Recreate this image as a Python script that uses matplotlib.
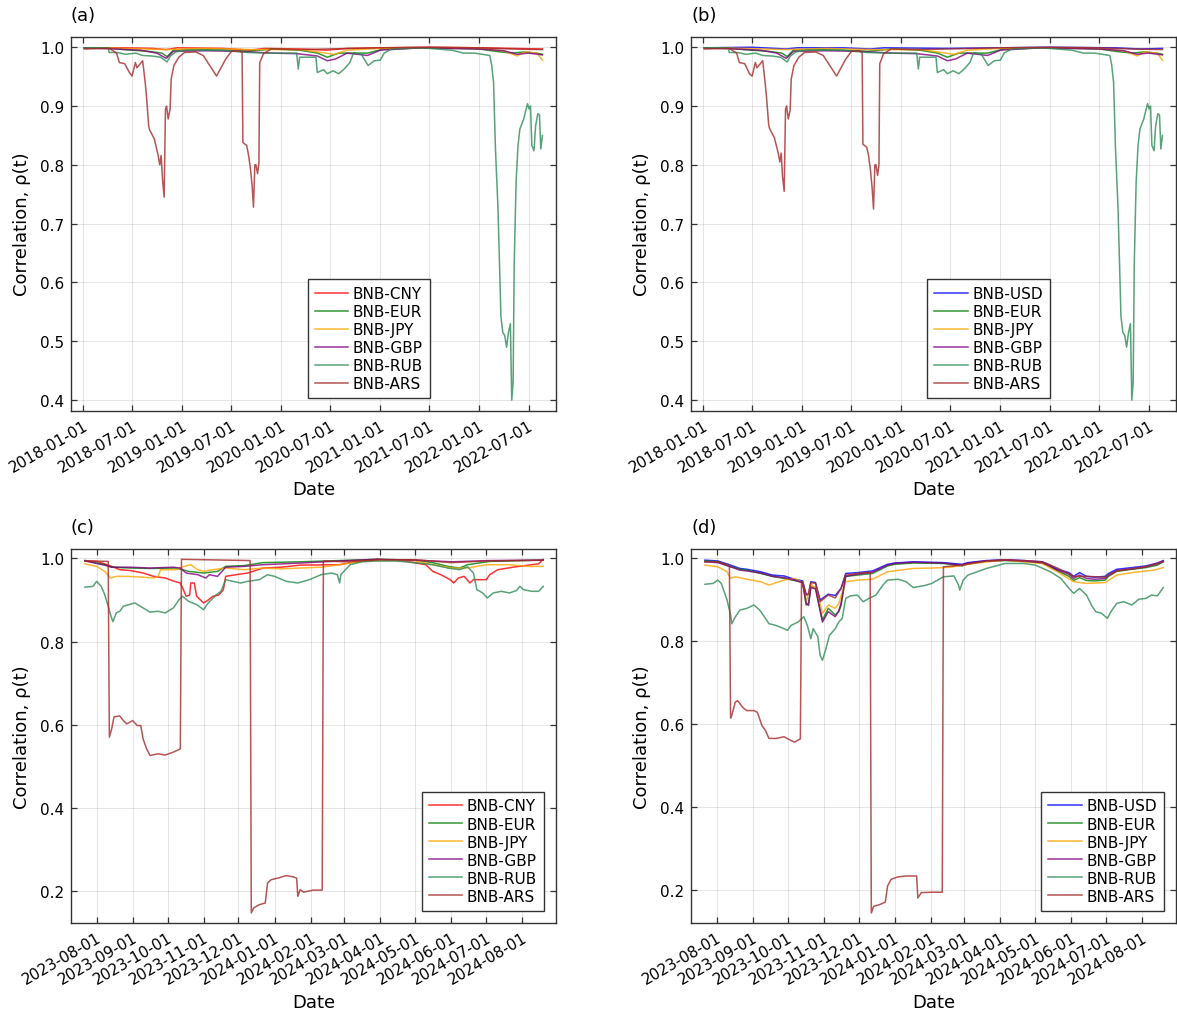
import matplotlib
matplotlib.use("Agg")
import matplotlib.pyplot as plt
import matplotlib.dates as mdates
import pandas as pd

# ---- data: (date, correlation) ----
top_cny = [("2018-01-07", 0.999), ("2018-06-01", 0.999), ("2018-09-15", 0.998), ("2018-11-05", 0.996),
           ("2018-12-15", 0.999), ("2019-06-01", 0.998), ("2019-09-10", 0.995), ("2019-11-01", 0.998),
           ("2020-03-15", 0.997), ("2020-06-15", 0.995), ("2020-09-01", 0.998), ("2021-01-01", 0.999),
           ("2021-07-01", 1.0), ("2022-01-01", 0.999), ("2022-05-01", 0.998), ("2022-08-21", 0.997)]

top_usd = [("2018-01-07", 0.999), ("2018-07-01", 1.0), ("2018-11-05", 0.997), ("2018-12-15", 0.999),
           ("2019-06-01", 0.999), ("2019-09-10", 0.997), ("2019-11-01", 0.999), ("2020-06-15", 0.998),
           ("2021-01-01", 0.999), ("2021-07-01", 1.0), ("2022-03-01", 0.999), ("2022-06-01", 0.997),
           ("2022-08-21", 0.998)]

top_eur = [("2018-01-07", 0.999), ("2018-04-01", 0.999), ("2018-06-01", 0.996), ("2018-09-01", 0.993),
           ("2018-10-20", 0.99), ("2018-11-08", 0.984), ("2018-12-01", 0.995), ("2019-03-01", 0.996),
           ("2019-06-01", 0.995), ("2019-09-01", 0.993), ("2019-12-01", 0.997), ("2020-03-10", 0.995),
           ("2020-05-15", 0.99), ("2020-06-20", 0.983), ("2020-08-01", 0.99), ("2020-11-15", 0.99),
           ("2021-01-15", 0.997), ("2021-06-01", 0.999), ("2021-10-01", 0.998), ("2022-01-01", 0.997),
           ("2022-03-01", 0.993), ("2022-05-01", 0.99), ("2022-06-15", 0.992), ("2022-08-01", 0.99),
           ("2022-08-21", 0.988)]

top_jpy = [("2018-01-07", 0.999), ("2018-06-01", 0.998), ("2018-11-01", 0.996), ("2019-04-01", 0.998),
           ("2019-09-15", 0.996), ("2020-03-15", 0.996), ("2020-06-15", 0.99), ("2020-07-15", 0.988),
           ("2020-09-01", 0.995), ("2021-01-01", 0.998), ("2021-06-01", 0.999), ("2022-01-01", 0.998),
           ("2022-04-01", 0.994), ("2022-05-20", 0.985), ("2022-06-15", 0.992), ("2022-08-01", 0.99),
           ("2022-08-21", 0.978)]

top_gbp = [("2018-01-07", 0.999), ("2018-05-01", 0.997), ("2018-08-01", 0.995), ("2018-10-01", 0.99),
           ("2018-11-05", 0.981), ("2018-12-01", 0.993), ("2019-04-01", 0.994), ("2019-08-01", 0.993),
           ("2019-12-01", 0.99), ("2020-03-01", 0.989), ("2020-05-15", 0.985), ("2020-06-20", 0.977),
           ("2020-07-20", 0.98), ("2020-09-01", 0.99), ("2020-11-15", 0.986), ("2021-01-01", 0.995),
           ("2021-06-01", 0.999), ("2022-01-01", 0.997), ("2022-04-01", 0.994), ("2022-05-20", 0.988),
           ("2022-07-01", 0.99), ("2022-08-21", 0.987)]

top_rub = [("2018-01-07", 0.999), ("2018-04-05", 0.999), ("2018-04-09", 0.991), ("2018-05-10", 0.991),
           ("2018-06-10", 0.988), ("2018-07-15", 0.99), ("2018-08-10", 0.986), ("2018-09-15", 0.985),
           ("2018-10-15", 0.983), ("2018-11-08", 0.975), ("2018-11-20", 0.985), ("2018-12-10", 0.992),
           ("2019-01-15", 0.995), ("2019-06-01", 0.995), ("2019-09-01", 0.991), ("2019-11-15", 0.99),
           ("2020-02-28", 0.99), ("2020-03-05", 0.963), ("2020-03-10", 0.983), ("2020-05-09", 0.983),
           ("2020-05-14", 0.957), ("2020-06-06", 0.962), ("2020-06-20", 0.955), ("2020-07-11", 0.96),
           ("2020-08-01", 0.955), ("2020-08-21", 0.963), ("2020-09-11", 0.974), ("2020-09-25", 0.991),
           ("2020-10-23", 0.988), ("2020-11-17", 0.969), ("2020-12-10", 0.977), ("2021-01-01", 0.978),
           ("2021-01-15", 0.99), ("2021-02-12", 0.997), ("2021-06-01", 0.999), ("2021-09-22", 0.995),
           ("2021-11-03", 0.99), ("2021-12-14", 0.99), ("2022-02-08", 0.986), ("2022-02-15", 0.97),
           ("2022-02-22", 0.94), ("2022-03-01", 0.827), ("2022-03-10", 0.73), ("2022-03-14", 0.665),
           ("2022-03-21", 0.543), ("2022-03-28", 0.515), ("2022-04-04", 0.51), ("2022-04-11", 0.49),
           ("2022-04-18", 0.515), ("2022-04-25", 0.53), ("2022-04-30", 0.40), ("2022-05-05", 0.43),
           ("2022-05-09", 0.63), ("2022-05-16", 0.77), ("2022-05-23", 0.833), ("2022-05-30", 0.861),
           ("2022-06-13", 0.878), ("2022-06-27", 0.904), ("2022-07-03", 0.895), ("2022-07-08", 0.90),
           ("2022-07-13", 0.833), ("2022-07-21", 0.824), ("2022-07-27", 0.867), ("2022-08-04", 0.887),
           ("2022-08-10", 0.885), ("2022-08-15", 0.827), ("2022-08-21", 0.85)]

ars_a = [("2018-01-07", 0.997), ("2018-04-09", 0.998), ("2018-05-06", 0.99), ("2018-05-16", 0.974),
         ("2018-06-05", 0.972), ("2018-06-22", 0.957), ("2018-07-02", 0.951), ("2018-07-14", 0.974),
         ("2018-07-20", 0.965), ("2018-08-10", 0.977), ("2018-08-20", 0.937), ("2018-08-24", 0.917),
         ("2018-09-01", 0.867), ("2018-09-04", 0.86), ("2018-09-22", 0.844), ("2018-10-06", 0.816),
         ("2018-10-12", 0.80), ("2018-10-17", 0.816), ("2018-10-22", 0.776), ("2018-10-28", 0.745),
         ("2018-11-02", 0.895), ("2018-11-06", 0.90), ("2018-11-12", 0.878), ("2018-11-19", 0.895),
         ("2018-11-23", 0.946), ("2018-12-03", 0.969), ("2018-12-21", 0.983), ("2019-01-11", 0.991),
         ("2019-02-21", 0.992), ("2019-03-21", 0.986), ("2019-04-18", 0.966), ("2019-05-09", 0.951),
         ("2019-05-23", 0.963), ("2019-06-12", 0.98), ("2019-07-03", 0.993), ("2019-07-31", 0.994),
         ("2019-08-11", 0.991), ("2019-08-14", 0.838), ("2019-08-28", 0.833), ("2019-09-04", 0.816),
         ("2019-09-11", 0.793), ("2019-09-17", 0.765), ("2019-09-22", 0.728), ("2019-09-27", 0.80),
         ("2019-10-01", 0.80), ("2019-10-07", 0.785), ("2019-10-12", 0.804), ("2019-10-15", 0.974),
         ("2019-10-29", 0.989), ("2019-11-26", 0.997), ("2020-03-15", 0.996), ("2020-06-15", 0.997),
         ("2021-01-01", 0.999), ("2021-07-01", 1.0), ("2022-01-01", 0.999), ("2022-05-01", 0.997),
         ("2022-08-21", 0.996)]

ars_b = [("2018-01-07", 0.997), ("2018-04-09", 0.998), ("2018-05-06", 0.99), ("2018-05-16", 0.974),
         ("2018-06-05", 0.972), ("2018-06-22", 0.955), ("2018-07-02", 0.951), ("2018-07-14", 0.974),
         ("2018-07-20", 0.965), ("2018-08-10", 0.977), ("2018-08-20", 0.935), ("2018-08-24", 0.915),
         ("2018-09-01", 0.868), ("2018-09-04", 0.862), ("2018-09-22", 0.846), ("2018-10-06", 0.82),
         ("2018-10-12", 0.805), ("2018-10-17", 0.82), ("2018-10-22", 0.78), ("2018-10-28", 0.755),
         ("2018-11-02", 0.895), ("2018-11-06", 0.90), ("2018-11-12", 0.878), ("2018-11-19", 0.893),
         ("2018-11-23", 0.946), ("2018-12-03", 0.969), ("2018-12-21", 0.983), ("2019-01-11", 0.991),
         ("2019-02-21", 0.992), ("2019-03-21", 0.986), ("2019-04-18", 0.966), ("2019-05-09", 0.951),
         ("2019-05-23", 0.963), ("2019-06-12", 0.98), ("2019-07-03", 0.993), ("2019-07-31", 0.994),
         ("2019-08-11", 0.991), ("2019-08-14", 0.835), ("2019-08-28", 0.83), ("2019-09-04", 0.815),
         ("2019-09-11", 0.79), ("2019-09-17", 0.76), ("2019-09-22", 0.725), ("2019-09-27", 0.80),
         ("2019-10-01", 0.80), ("2019-10-07", 0.782), ("2019-10-12", 0.80), ("2019-10-15", 0.972),
         ("2019-10-29", 0.989), ("2019-11-26", 0.997), ("2020-03-15", 0.996), ("2020-06-15", 0.997),
         ("2021-01-01", 0.999), ("2021-07-01", 1.0), ("2022-01-01", 0.999), ("2022-05-01", 0.997),
         ("2022-08-21", 0.996)]

c_cny = [("2023-07-22", 0.995), ("2023-08-01", 0.993), ("2023-08-08", 0.987), ("2023-08-14", 0.981),
         ("2023-08-21", 0.973), ("2023-08-30", 0.971), ("2023-09-10", 0.965), ("2023-09-19", 0.957),
         ("2023-09-29", 0.953), ("2023-10-07", 0.945), ("2023-10-12", 0.941), ("2023-10-14", 0.929),
         ("2023-10-17", 0.909), ("2023-10-20", 0.912), ("2023-10-21", 0.941), ("2023-10-24", 0.941),
         ("2023-10-26", 0.909), ("2023-11-01", 0.893), ("2023-11-05", 0.9), ("2023-11-09", 0.909),
         ("2023-11-14", 0.912), ("2023-11-18", 0.925), ("2023-11-20", 0.957), ("2023-11-29", 0.961),
         ("2023-12-09", 0.965), ("2023-12-22", 0.977), ("2024-01-07", 0.979), ("2024-01-23", 0.984),
         ("2024-02-26", 0.985), ("2024-03-06", 0.99), ("2024-03-29", 0.998), ("2024-04-20", 0.995),
         ("2024-04-30", 0.99), ("2024-05-10", 0.985), ("2024-05-16", 0.969), ("2024-05-23", 0.961),
         ("2024-05-31", 0.949), ("2024-06-03", 0.941), ("2024-06-07", 0.953), ("2024-06-12", 0.957),
         ("2024-06-17", 0.941), ("2024-06-20", 0.949), ("2024-07-01", 0.949), ("2024-07-04", 0.961),
         ("2024-07-11", 0.973), ("2024-07-24", 0.979), ("2024-08-06", 0.984), ("2024-08-15", 0.987),
         ("2024-08-19", 0.998)]

c_eur = [("2023-07-22", 0.995), ("2023-08-08", 0.985), ("2023-08-14", 0.979), ("2023-08-30", 0.977),
         ("2023-09-16", 0.976), ("2023-10-08", 0.977), ("2023-10-14", 0.973), ("2023-10-19", 0.969),
         ("2023-11-01", 0.965), ("2023-11-13", 0.969), ("2023-11-20", 0.981), ("2023-12-06", 0.983),
         ("2023-12-22", 0.99), ("2024-01-07", 0.991), ("2024-01-23", 0.992), ("2024-02-26", 0.995),
         ("2024-03-29", 0.998), ("2024-04-30", 0.996), ("2024-05-16", 0.99), ("2024-05-29", 0.981),
         ("2024-06-08", 0.977), ("2024-06-15", 0.985), ("2024-07-04", 0.993), ("2024-08-19", 0.996)]

c_jpy = [("2023-07-22", 0.987), ("2023-08-01", 0.981), ("2023-08-08", 0.969), ("2023-08-13", 0.953),
         ("2023-08-18", 0.957), ("2023-08-27", 0.957), ("2023-09-10", 0.955), ("2023-09-19", 0.953),
         ("2023-09-23", 0.957), ("2023-09-25", 0.973), ("2023-10-08", 0.973), ("2023-10-12", 0.977),
         ("2023-10-15", 0.981), ("2023-10-21", 0.985), ("2023-10-27", 0.973), ("2023-11-01", 0.969),
         ("2023-11-09", 0.973), ("2023-11-20", 0.977), ("2023-12-06", 0.973), ("2023-12-22", 0.977),
         ("2024-01-07", 0.975), ("2024-01-23", 0.977), ("2024-02-10", 0.979), ("2024-02-26", 0.985),
         ("2024-03-13", 0.992), ("2024-03-29", 0.995), ("2024-04-30", 0.995), ("2024-05-16", 0.985),
         ("2024-06-02", 0.977), ("2024-06-15", 0.977), ("2024-07-01", 0.985), ("2024-07-21", 0.985),
         ("2024-08-06", 0.981), ("2024-08-19", 0.981)]

c_gbp = [("2023-07-22", 0.994), ("2023-08-08", 0.984), ("2023-08-14", 0.979), ("2023-08-30", 0.979),
         ("2023-09-16", 0.977), ("2023-10-06", 0.979), ("2023-10-12", 0.977), ("2023-10-17", 0.965),
         ("2023-10-27", 0.961), ("2023-11-03", 0.953), ("2023-11-06", 0.961), ("2023-11-13", 0.957),
         ("2023-11-20", 0.979), ("2023-12-06", 0.981), ("2023-12-22", 0.985), ("2024-01-23", 0.989),
         ("2024-02-26", 0.994), ("2024-03-29", 0.998), ("2024-04-30", 0.996), ("2024-06-02", 0.992),
         ("2024-07-04", 0.995), ("2024-08-19", 0.996)]

c_rub = [("2023-07-22", 0.931), ("2023-07-29", 0.933), ("2023-08-01", 0.945), ("2023-08-05", 0.933),
         ("2023-08-08", 0.913), ("2023-08-11", 0.885), ("2023-08-13", 0.865), ("2023-08-15", 0.848),
         ("2023-08-18", 0.869), ("2023-08-21", 0.873), ("2023-08-24", 0.885), ("2023-08-29", 0.889),
         ("2023-09-03", 0.893), ("2023-09-10", 0.881), ("2023-09-16", 0.871), ("2023-09-23", 0.873),
         ("2023-09-29", 0.869), ("2023-10-06", 0.881), ("2023-10-11", 0.901), ("2023-10-14", 0.909),
         ("2023-10-19", 0.897), ("2023-10-26", 0.889), ("2023-11-01", 0.877), ("2023-11-05", 0.893),
         ("2023-11-12", 0.913), ("2023-11-16", 0.921), ("2023-11-20", 0.949), ("2023-11-26", 0.945),
         ("2023-12-03", 0.941), ("2023-12-09", 0.945), ("2023-12-19", 0.949), ("2023-12-26", 0.961),
         ("2024-01-01", 0.957), ("2024-01-11", 0.945), ("2024-01-21", 0.941), ("2024-01-31", 0.949),
         ("2024-02-10", 0.961), ("2024-02-19", 0.965), ("2024-02-24", 0.961), ("2024-02-26", 0.941),
         ("2024-02-27", 0.961), ("2024-03-06", 0.985), ("2024-03-16", 0.992), ("2024-03-29", 0.994),
         ("2024-04-14", 0.994), ("2024-04-30", 0.99), ("2024-05-16", 0.985), ("2024-05-29", 0.977),
         ("2024-06-08", 0.973), ("2024-06-15", 0.98), ("2024-06-20", 0.965), ("2024-06-23", 0.925),
         ("2024-06-28", 0.917), ("2024-07-02", 0.905), ("2024-07-07", 0.917), ("2024-07-14", 0.921),
         ("2024-07-21", 0.917), ("2024-07-27", 0.923), ("2024-07-30", 0.933), ("2024-08-02", 0.925),
         ("2024-08-09", 0.921), ("2024-08-15", 0.921), ("2024-08-19", 0.933)]

c_ars = [("2023-07-22", 0.994), ("2023-08-11", 0.993), ("2023-08-12", 0.57), ("2023-08-14", 0.59),
         ("2023-08-16", 0.619), ("2023-08-21", 0.621), ("2023-08-24", 0.61), ("2023-08-27", 0.602),
         ("2023-09-01", 0.61), ("2023-09-05", 0.598), ("2023-09-08", 0.598), ("2023-09-10", 0.566),
         ("2023-09-13", 0.542), ("2023-09-16", 0.526), ("2023-09-23", 0.53), ("2023-09-29", 0.527),
         ("2023-10-06", 0.534), ("2023-10-12", 0.542), ("2023-10-13", 0.998), ("2023-12-11", 0.995),
         ("2023-12-12", 0.147), ("2023-12-14", 0.159), ("2023-12-19", 0.167), ("2023-12-24", 0.171),
         ("2023-12-26", 0.219), ("2023-12-29", 0.227), ("2024-01-04", 0.231), ("2024-01-11", 0.237),
         ("2024-01-17", 0.234), ("2024-01-20", 0.231), ("2024-01-21", 0.187), ("2024-01-23", 0.203),
         ("2024-01-26", 0.197), ("2024-02-03", 0.202), ("2024-02-11", 0.202), ("2024-02-12", 0.994),
         ("2024-03-01", 0.992), ("2024-04-01", 0.997), ("2024-05-01", 0.997), ("2024-06-01", 0.99),
         ("2024-07-01", 0.994), ("2024-08-19", 0.996)]

d_usd = [("2023-07-22", 0.994), ("2023-08-02", 0.992), ("2023-08-11", 0.984), ("2023-08-21", 0.974),
         ("2023-08-27", 0.972), ("2023-09-08", 0.966), ("2023-09-18", 0.958), ("2023-09-28", 0.956),
         ("2023-10-07", 0.948), ("2023-10-14", 0.944), ("2023-10-17", 0.912), ("2023-10-19", 0.912),
         ("2023-10-21", 0.942), ("2023-10-25", 0.94), ("2023-10-29", 0.898), ("2023-11-05", 0.912),
         ("2023-11-11", 0.909), ("2023-11-16", 0.926), ("2023-11-20", 0.962), ("2023-11-30", 0.964),
         ("2023-12-13", 0.968), ("2023-12-26", 0.984), ("2024-01-01", 0.987), ("2024-01-17", 0.99),
         ("2024-02-12", 0.988), ("2024-02-28", 0.984), ("2024-03-04", 0.988), ("2024-03-20", 0.993),
         ("2024-04-05", 0.995), ("2024-04-21", 0.993), ("2024-05-07", 0.99), ("2024-05-12", 0.984),
         ("2024-05-20", 0.972), ("2024-05-30", 0.964), ("2024-06-03", 0.955), ("2024-06-08", 0.964),
         ("2024-06-14", 0.955), ("2024-06-21", 0.953), ("2024-06-30", 0.955), ("2024-07-03", 0.962),
         ("2024-07-10", 0.972), ("2024-07-23", 0.976), ("2024-08-04", 0.98), ("2024-08-14", 0.987),
         ("2024-08-19", 0.993)]

d_eur = [("2023-07-22", 0.992), ("2023-08-02", 0.99), ("2023-08-11", 0.98), ("2023-08-21", 0.972),
         ("2023-08-27", 0.97), ("2023-09-08", 0.962), ("2023-09-18", 0.955), ("2023-09-28", 0.95),
         ("2023-10-07", 0.945), ("2023-10-14", 0.94), ("2023-10-17", 0.886), ("2023-10-19", 0.89),
         ("2023-10-21", 0.93), ("2023-10-25", 0.928), ("2023-10-31", 0.85), ("2023-11-05", 0.878),
         ("2023-11-11", 0.862), ("2023-11-14", 0.87), ("2023-11-16", 0.885), ("2023-11-20", 0.955),
         ("2023-11-30", 0.958), ("2023-12-13", 0.962), ("2023-12-26", 0.98), ("2024-01-01", 0.984),
         ("2024-01-17", 0.987), ("2024-02-12", 0.986), ("2024-02-28", 0.98), ("2024-03-04", 0.985),
         ("2024-03-20", 0.991), ("2024-04-05", 0.993), ("2024-04-21", 0.991), ("2024-05-07", 0.987),
         ("2024-05-12", 0.98), ("2024-05-20", 0.968), ("2024-05-30", 0.955), ("2024-06-03", 0.945),
         ("2024-06-08", 0.952), ("2024-06-14", 0.945), ("2024-06-21", 0.944), ("2024-06-30", 0.946),
         ("2024-07-03", 0.955), ("2024-07-10", 0.967), ("2024-07-23", 0.972), ("2024-08-04", 0.976),
         ("2024-08-14", 0.982), ("2024-08-19", 0.99)]

d_jpy = [("2023-07-22", 0.982), ("2023-08-02", 0.978), ("2023-08-10", 0.966), ("2023-08-13", 0.95),
         ("2023-08-17", 0.954), ("2023-08-27", 0.948), ("2023-09-08", 0.942), ("2023-09-15", 0.934),
         ("2023-09-28", 0.946), ("2023-10-07", 0.95), ("2023-10-14", 0.94), ("2023-10-17", 0.894),
         ("2023-10-21", 0.936), ("2023-10-26", 0.924), ("2023-10-31", 0.866), ("2023-11-05", 0.886),
         ("2023-11-11", 0.878), ("2023-11-14", 0.89), ("2023-11-20", 0.942), ("2023-11-30", 0.946),
         ("2023-12-13", 0.948), ("2023-12-26", 0.966), ("2024-01-17", 0.974), ("2024-02-02", 0.975),
         ("2024-02-18", 0.977), ("2024-03-04", 0.984), ("2024-03-20", 0.99), ("2024-04-05", 0.994),
         ("2024-04-21", 0.99), ("2024-05-07", 0.986), ("2024-05-20", 0.966), ("2024-06-03", 0.942),
         ("2024-06-14", 0.938), ("2024-06-30", 0.94), ("2024-07-10", 0.958), ("2024-07-26", 0.965),
         ("2024-08-11", 0.97), ("2024-08-19", 0.976)]

d_gbp = [("2023-07-22", 0.99), ("2023-08-02", 0.988), ("2023-08-11", 0.98), ("2023-08-21", 0.97),
         ("2023-08-27", 0.968), ("2023-09-08", 0.963), ("2023-09-18", 0.955), ("2023-09-28", 0.952),
         ("2023-10-07", 0.946), ("2023-10-14", 0.94), ("2023-10-17", 0.89), ("2023-10-19", 0.885),
         ("2023-10-21", 0.928), ("2023-10-25", 0.925), ("2023-10-31", 0.845), ("2023-11-05", 0.87),
         ("2023-11-11", 0.858), ("2023-11-14", 0.872), ("2023-11-16", 0.89), ("2023-11-20", 0.955),
         ("2023-11-30", 0.96), ("2023-12-13", 0.965), ("2023-12-26", 0.982), ("2024-01-01", 0.986),
         ("2024-01-17", 0.989), ("2024-02-12", 0.987), ("2024-02-28", 0.982), ("2024-03-04", 0.987),
         ("2024-03-20", 0.992), ("2024-04-05", 0.994), ("2024-04-21", 0.992), ("2024-05-07", 0.988),
         ("2024-05-12", 0.982), ("2024-05-20", 0.97), ("2024-05-30", 0.96), ("2024-06-03", 0.95),
         ("2024-06-08", 0.958), ("2024-06-14", 0.95), ("2024-06-21", 0.948), ("2024-06-30", 0.95),
         ("2024-07-03", 0.958), ("2024-07-10", 0.969), ("2024-07-23", 0.973), ("2024-08-04", 0.978),
         ("2024-08-14", 0.985), ("2024-08-19", 0.991)]

d_rub = [("2023-07-22", 0.936), ("2023-07-29", 0.938), ("2023-08-02", 0.946), ("2023-08-05", 0.938),
         ("2023-08-10", 0.898), ("2023-08-13", 0.862), ("2023-08-14", 0.841), ("2023-08-17", 0.857),
         ("2023-08-21", 0.874), ("2023-08-27", 0.878), ("2023-09-02", 0.886), ("2023-09-07", 0.874),
         ("2023-09-12", 0.854), ("2023-09-15", 0.841), ("2023-09-21", 0.837), ("2023-09-28", 0.829),
         ("2023-10-01", 0.825), ("2023-10-04", 0.837), ("2023-10-10", 0.845), ("2023-10-15", 0.858),
         ("2023-10-18", 0.837), ("2023-10-21", 0.805), ("2023-10-23", 0.829), ("2023-10-27", 0.81),
         ("2023-10-29", 0.765), ("2023-10-31", 0.753), ("2023-11-03", 0.781), ("2023-11-06", 0.813),
         ("2023-11-11", 0.829), ("2023-11-14", 0.845), ("2023-11-17", 0.854), ("2023-11-20", 0.902),
         ("2023-11-24", 0.908), ("2023-11-30", 0.91), ("2023-12-05", 0.894), ("2023-12-10", 0.902),
         ("2023-12-16", 0.91), ("2023-12-22", 0.934), ("2023-12-26", 0.946), ("2024-01-04", 0.948),
         ("2024-01-11", 0.942), ("2024-01-17", 0.928), ("2024-01-27", 0.933), ("2024-02-02", 0.938),
         ("2024-02-12", 0.954), ("2024-02-21", 0.956), ("2024-02-25", 0.934), ("2024-02-26", 0.922),
         ("2024-02-29", 0.946), ("2024-03-04", 0.958), ("2024-03-20", 0.974), ("2024-04-05", 0.986),
         ("2024-04-21", 0.986), ("2024-05-01", 0.982), ("2024-05-14", 0.966), ("2024-05-23", 0.95),
         ("2024-05-30", 0.926), ("2024-06-03", 0.914), ("2024-06-08", 0.926), ("2024-06-14", 0.91),
         ("2024-06-19", 0.882), ("2024-06-22", 0.87), ("2024-06-27", 0.866), ("2024-07-02", 0.854),
         ("2024-07-05", 0.87), ("2024-07-10", 0.89), ("2024-07-16", 0.894), ("2024-07-23", 0.886),
         ("2024-07-29", 0.9), ("2024-08-04", 0.902), ("2024-08-09", 0.91), ("2024-08-14", 0.908),
         ("2024-08-19", 0.928)]

d_ars = [("2023-07-22", 0.99), ("2023-08-02", 0.99), ("2023-08-11", 0.982), ("2023-08-12", 0.98),
         ("2023-08-13", 0.614), ("2023-08-14", 0.62), ("2023-08-17", 0.652), ("2023-08-19", 0.656),
         ("2023-08-24", 0.638), ("2023-08-27", 0.632), ("2023-09-02", 0.632), ("2023-09-05", 0.628),
         ("2023-09-09", 0.596), ("2023-09-12", 0.584), ("2023-09-15", 0.565), ("2023-09-21", 0.565),
         ("2023-09-28", 0.569), ("2023-10-04", 0.56), ("2023-10-07", 0.556), ("2023-10-12", 0.564),
         ("2023-10-13", 0.942), ("2023-10-17", 0.91), ("2023-10-19", 0.912), ("2023-10-21", 0.94),
         ("2023-10-25", 0.938), ("2023-10-29", 0.894), ("2023-11-05", 0.91), ("2023-11-11", 0.903),
         ("2023-11-16", 0.926), ("2023-11-20", 0.958), ("2023-11-30", 0.962), ("2023-12-11", 0.965),
         ("2023-12-12", 0.145), ("2023-12-14", 0.161), ("2023-12-19", 0.165), ("2023-12-24", 0.171),
         ("2023-12-26", 0.21), ("2023-12-29", 0.226), ("2024-01-04", 0.232), ("2024-01-11", 0.234),
         ("2024-01-20", 0.234), ("2024-01-21", 0.181), ("2024-01-24", 0.194), ("2024-02-02", 0.195),
         ("2024-02-11", 0.195), ("2024-02-12", 0.978), ("2024-02-28", 0.982), ("2024-03-20", 0.992),
         ("2024-04-05", 0.995), ("2024-04-21", 0.993), ("2024-05-07", 0.99), ("2024-05-20", 0.975),
         ("2024-06-03", 0.955), ("2024-06-14", 0.955), ("2024-06-30", 0.953), ("2024-07-10", 0.968),
         ("2024-08-04", 0.978), ("2024-08-19", 0.991)]

pair_colors = {"BNB-CNY": "red", "BNB-USD": "blue", "BNB-EUR": "green", "BNB-JPY": "orange",
               "BNB-GBP": "purple", "BNB-RUB": "seagreen", "BNB-ARS": "brown"}

top_ticks = pd.date_range("2018-01-01", "2022-07-01", freq="6MS")
bottom_ticks = pd.date_range("2023-08-01", "2024-08-01", freq="MS")

panels = [
    ("(a)", [0.0603, 0.5932, 0.4121, 0.3696],
     [("BNB-CNY", top_cny), ("BNB-EUR", top_eur), ("BNB-JPY", top_jpy),
      ("BNB-GBP", top_gbp), ("BNB-RUB", top_rub), ("BNB-ARS", ars_a)],
     ("2017-11-19", "2022-10-10"), (0.382, 1.018), [0.4, 0.5, 0.6, 0.7, 0.8, 0.9, 1.0], top_ticks, 0.74),
    ("(b)", [0.5871, 0.5932, 0.4121, 0.3696],
     [("BNB-USD", top_usd), ("BNB-EUR", top_eur), ("BNB-JPY", top_jpy),
      ("BNB-GBP", top_gbp), ("BNB-RUB", top_rub), ("BNB-ARS", ars_b)],
     ("2017-11-19", "2022-10-10"), (0.382, 1.018), [0.4, 0.5, 0.6, 0.7, 0.8, 0.9, 1.0], top_ticks, 0.74),
    ("(c)", [0.0603, 0.0870, 0.4121, 0.3696],
     [("BNB-CNY", c_cny), ("BNB-EUR", c_eur), ("BNB-JPY", c_jpy),
      ("BNB-GBP", c_gbp), ("BNB-RUB", c_rub), ("BNB-ARS", c_ars)],
     ("2023-07-10", "2024-08-30"), (0.123, 1.023), [0.2, 0.4, 0.6, 0.8, 1.0], bottom_ticks, 0.975),
    ("(d)", [0.5871, 0.0870, 0.4121, 0.3696],
     [("BNB-USD", d_usd), ("BNB-EUR", d_eur), ("BNB-JPY", d_jpy),
      ("BNB-GBP", d_gbp), ("BNB-RUB", d_rub), ("BNB-ARS", d_ars)],
     ("2023-07-10", "2024-08-30"), (0.121, 1.021), [0.2, 0.4, 0.6, 0.8, 1.0], bottom_ticks, 0.975),
]

frame_col = "#333333"
fig = plt.figure(figsize=(11.77, 10.12), dpi=100)

for title, pos, series, xlim, ylim, yticks, xticks, leg_x in panels:
    ax = fig.add_axes(pos)
    for name, pts in series:
        dates = pd.to_datetime([p[0] for p in pts])
        vals = [p[1] for p in pts]
        ax.plot(dates, vals, color=pair_colors[name], lw=1.1, alpha=0.8, label=name)
    ax.set_xlim(pd.Timestamp(xlim[0]), pd.Timestamp(xlim[1]))
    ax.set_ylim(*ylim)
    ax.set_yticks(yticks)
    ax.set_yticklabels([f"{t:.1f}" for t in yticks])
    ax.set_xticks(xticks)
    ax.xaxis.set_major_formatter(mdates.DateFormatter("%Y-%m-%d"))
    ax.grid(True, color="black", alpha=0.1, lw=0.8)
    for s in ax.spines.values():
        s.set_color(frame_col)
        s.set_linewidth(1.0)
    ax.tick_params(direction="in", top=True, right=True, length=4, width=0.9,
                   color=frame_col, labelsize=11, pad=5)
    for lab in ax.get_xticklabels():
        lab.set_rotation(30)
        lab.set_ha("right")
        lab.set_rotation_mode("anchor")
    ax.set_xlabel("Date", fontsize=13, labelpad=4)
    ax.set_ylabel("Correlation, ρ(t)", fontsize=13, labelpad=6)
    ax.set_title(title, loc="left", fontsize=13, pad=12)
    leg = ax.legend(loc="lower right", bbox_to_anchor=(leg_x, 0.033), fontsize=11,
                    frameon=True, fancybox=False, framealpha=1, edgecolor=frame_col,
                    borderpad=0.45, labelspacing=0.2, handlelength=2.2, handletextpad=0.3,
                    borderaxespad=0)
    leg.get_frame().set_linewidth(1.0)

fig.savefig("out.png", dpi=100)
